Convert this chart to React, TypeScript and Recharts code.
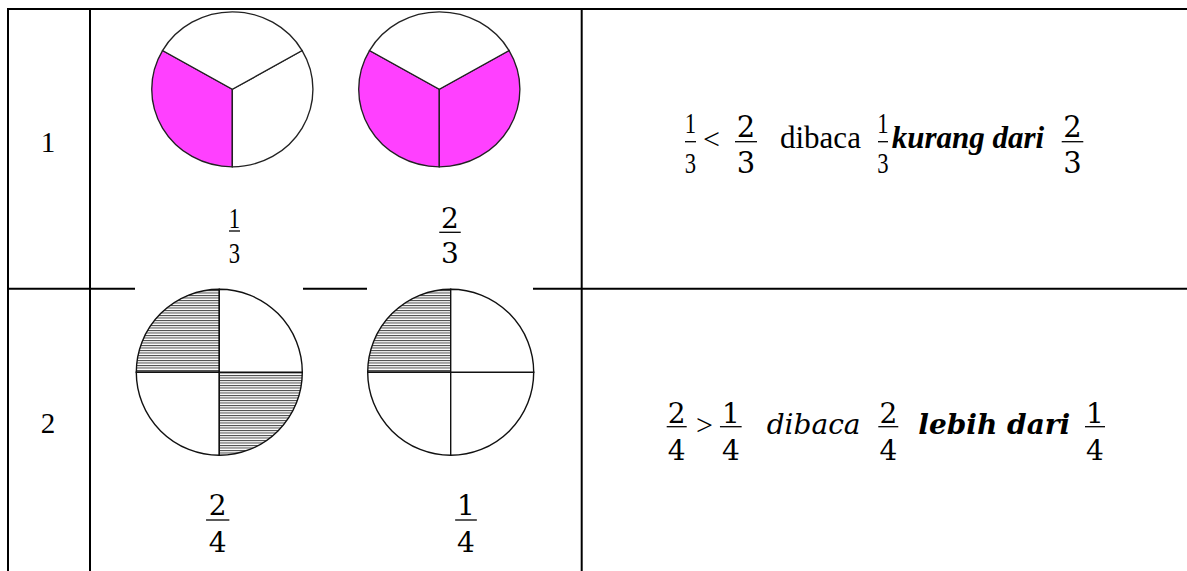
import React from 'react';
import { PieChart, Pie, Cell } from 'recharts';

// ---- data ----
const ROW_LABELS = ['1', '2'];
const PIE_ONE_THIRD = [
  { name: 'diarsir', value: 1 },
  { name: 'kosong', value: 1 },
  { name: 'kosong', value: 1 },
];
const PIE_TWO_THIRDS = [
  { name: 'diarsir', value: 1 },
  { name: 'diarsir', value: 1 },
  { name: 'kosong', value: 1 },
];
const PIE_TWO_QUARTERS = [
  { name: 'diarsir', value: 1 },
  { name: 'kosong', value: 1 },
  { name: 'diarsir', value: 1 },
  { name: 'kosong', value: 1 },
];
const PIE_ONE_QUARTER = [
  { name: 'diarsir', value: 1 },
  { name: 'kosong', value: 1 },
  { name: 'kosong', value: 1 },
  { name: 'kosong', value: 1 },
];
const ROW1_LABELS = [{ num: '1', den: '3' }, { num: '2', den: '3' }];
const ROW2_LABELS = [{ num: '2', den: '4' }, { num: '1', den: '4' }];
const SENTENCE_1 = { a: { num: '1', den: '3' }, op: '<', b: { num: '2', den: '3' }, read: 'dibaca', word: 'kurang dari' };
const SENTENCE_2 = { a: { num: '2', den: '4' }, op: '>', b: { num: '1', den: '4' }, read: 'dibaca', word: 'lebih dari' };

const PINK = '#FF40FF';
const TIMES = '"Liberation Serif", "Times New Roman", serif';
const CAMBRIA = '"DejaVu Serif", serif';

type FracProps = {
  x: number; yNum: number; yBar: number; yDen: number; barW: number;
  num: string; den: string; font: string; size: number; sx?: number;
};
function Frac({ x, yNum, yBar, yDen, barW, num, den, font, size, sx = 1 }: FracProps) {
  return (
    <g>
      <text transform={`translate(${x},${yNum}) scale(${sx},1)`} textAnchor="middle" fontFamily={font} fontSize={size} fill="#000">{num}</text>
      <line x1={x - barW / 2} x2={x + barW / 2} y1={yBar} y2={yBar} stroke="#000" strokeWidth={1.3} />
      <text transform={`translate(${x},${yDen}) scale(${sx},1)`} textAnchor="middle" fontFamily={font} fontSize={size} fill="#000">{den}</text>
    </g>
  );
}

const fillFor = (name: string, shade: string) => (name === 'diarsir' ? shade : '#ffffff');

export default function App() {
  return (
    <div style={{ position: 'absolute', left: 0, top: 0, width: 1187, height: 571, background: '#fff', overflow: 'hidden' }}>
      <svg width={1187} height={571} style={{ position: 'absolute', left: 0, top: 0 }}>
        {/* table grid */}
        <line x1={7} x2={1187} y1={9} y2={9} stroke="#000" strokeWidth={2} />
        <line x1={8} x2={8} y1={8} y2={571} stroke="#000" strokeWidth={2} />
        <line x1={90} x2={90} y1={8} y2={571} stroke="#000" strokeWidth={2} />
        <line x1={581.7} x2={581.7} y1={8} y2={571} stroke="#000" strokeWidth={2} />
        <line x1={7} x2={135} y1={288.7} y2={288.7} stroke="#000" strokeWidth={2} />
        <line x1={303} x2={367} y1={288.7} y2={288.7} stroke="#000" strokeWidth={2} />
        <line x1={533} x2={1187} y1={288.7} y2={288.7} stroke="#000" strokeWidth={2} />

        {/* row numbers */}
        <text x={48} y={151.5} textAnchor="middle" fontFamily={TIMES} fontSize={29} fill="#000">{ROW_LABELS[0]}</text>
        <text x={48} y={433} textAnchor="middle" fontFamily={TIMES} fontSize={29} fill="#000">{ROW_LABELS[1]}</text>

        {/* row 1 picture labels */}
        <Frac x={234.5} yNum={228} yBar={231} yDen={262.5} barW={11} num={ROW1_LABELS[0].num} den={ROW1_LABELS[0].den} font={TIMES} size={29} sx={0.78} />
        <Frac x={450} yNum={228} yBar={232.3} yDen={263} barW={21.5} num={ROW1_LABELS[1].num} den={ROW1_LABELS[1].den} font={CAMBRIA} size={28} />

        {/* row 2 picture labels */}
        <Frac x={217.7} yNum={515} yBar={520} yDen={551.7} barW={23.3} num={ROW2_LABELS[0].num} den={ROW2_LABELS[0].den} font={CAMBRIA} size={28} />
        <Frac x={466} yNum={515} yBar={520} yDen={551.7} barW={21.7} num={ROW2_LABELS[1].num} den={ROW2_LABELS[1].den} font={CAMBRIA} size={28} />

        {/* row 1 sentence */}
        <Frac x={690.5} yNum={133} yBar={141.7} yDen={172.5} barW={11} num={SENTENCE_1.a.num} den={SENTENCE_1.a.den} font={TIMES} size={29} sx={0.78} />
        <text x={703} y={148.5} fontFamily={TIMES} fontSize={30} fill="#000">{SENTENCE_1.op}</text>
        <Frac x={746} yNum={136.7} yBar={141.7} yDen={172.5} barW={22} num={SENTENCE_1.b.num} den={SENTENCE_1.b.den} font={CAMBRIA} size={29} />
        <text x={780} y={148.3} fontFamily={TIMES} fontSize={31} fill="#000">{SENTENCE_1.read}</text>
        <Frac x={883} yNum={133} yBar={141.7} yDen={172.5} barW={10} num={SENTENCE_1.a.num} den={SENTENCE_1.a.den} font={TIMES} size={29} sx={0.78} />
        <text x={891.7} y={148.3} fontFamily={TIMES} fontSize={31} fontWeight="bold" fontStyle="italic" fill="#000">{SENTENCE_1.word}</text>
        <Frac x={1072.5} yNum={136.7} yBar={141.7} yDen={172.5} barW={21.6} num={SENTENCE_1.b.num} den={SENTENCE_1.b.den} font={CAMBRIA} size={29} />

        {/* row 2 sentence */}
        <Frac x={676.7} yNum={423.3} yBar={426.7} yDen={460} barW={20} num={SENTENCE_2.a.num} den={SENTENCE_2.a.den} font={CAMBRIA} size={28} />
        <text x={696} y={434.5} fontFamily={TIMES} fontSize={30} fill="#000">{SENTENCE_2.op}</text>
        <Frac x={730.8} yNum={423.3} yBar={426.7} yDen={460} barW={21.7} num={SENTENCE_2.b.num} den={SENTENCE_2.b.den} font={CAMBRIA} size={28} />
        <text x={766.7} y={434.3} fontFamily={CAMBRIA} fontSize={28} fontStyle="italic" fill="#000">{SENTENCE_2.read}</text>
        <Frac x={888.3} yNum={423.3} yBar={426.7} yDen={460} barW={20} num={SENTENCE_2.a.num} den={SENTENCE_2.a.den} font={CAMBRIA} size={28} />
        <text x={918.3} y={434.3} fontFamily={CAMBRIA} fontSize={28} fontStyle="italic" fontWeight="bold" fill="#000">{SENTENCE_2.word}</text>
        <Frac x={1095} yNum={423.3} yBar={426.7} yDen={460} barW={20} num={SENTENCE_2.b.num} den={SENTENCE_2.b.den} font={CAMBRIA} size={28} />
      </svg>

      {/* row 1 pies (slightly wider than tall, as in the picture) */}
      <div style={{ position: 'absolute', left: 0, top: 0, transform: 'scaleX(1.04)', transformOrigin: '0 0' }}>
        <PieChart width={560} height={280} margin={{ top: 0, right: 0, bottom: 0, left: 0 }}>
          <Pie data={PIE_ONE_THIRD} dataKey="value" cx={223.4} cy={89.3} outerRadius={77.5} startAngle={150} endAngle={510}
            stroke="#222" strokeWidth={1.3} isAnimationActive={false}>
            {PIE_ONE_THIRD.map((d, i) => <Cell key={i} fill={fillFor(d.name, PINK)} />)}
          </Pie>
          <Pie data={PIE_TWO_THIRDS} dataKey="value" cx={422.4} cy={89.3} outerRadius={77.5} startAngle={150} endAngle={510}
            stroke="#222" strokeWidth={1.3} isAnimationActive={false}>
            {PIE_TWO_THIRDS.map((d, i) => <Cell key={i} fill={fillFor(d.name, PINK)} />)}
          </Pie>
        </PieChart>
      </div>

      {/* row 2 pies */}
      <div style={{ position: 'absolute', left: 0, top: 0 }}>
        <PieChart width={580} height={470} margin={{ top: 0, right: 0, bottom: 0, left: 0 }}>
          <defs>
            <pattern id="hatch" patternUnits="userSpaceOnUse" width={6} height={2.5}>
              <rect x={0} y={0} width={6} height={2.5} fill="#fff" />
              <rect x={0} y={0} width={6} height={1} fill="#444" />
            </pattern>
          </defs>
          <Pie data={PIE_TWO_QUARTERS} dataKey="value" cx={219.3} cy={372.3} outerRadius={83} startAngle={90} endAngle={450}
            stroke="#111" strokeWidth={1.4} isAnimationActive={false}>
            {PIE_TWO_QUARTERS.map((d, i) => <Cell key={i} fill={fillFor(d.name, 'url(#hatch)')} />)}
          </Pie>
          <Pie data={PIE_ONE_QUARTER} dataKey="value" cx={450.7} cy={372.3} outerRadius={83} startAngle={90} endAngle={450}
            stroke="#111" strokeWidth={1.4} isAnimationActive={false}>
            {PIE_ONE_QUARTER.map((d, i) => <Cell key={i} fill={fillFor(d.name, 'url(#hatch)')} />)}
          </Pie>
        </PieChart>
      </div>
    </div>
  );
}
